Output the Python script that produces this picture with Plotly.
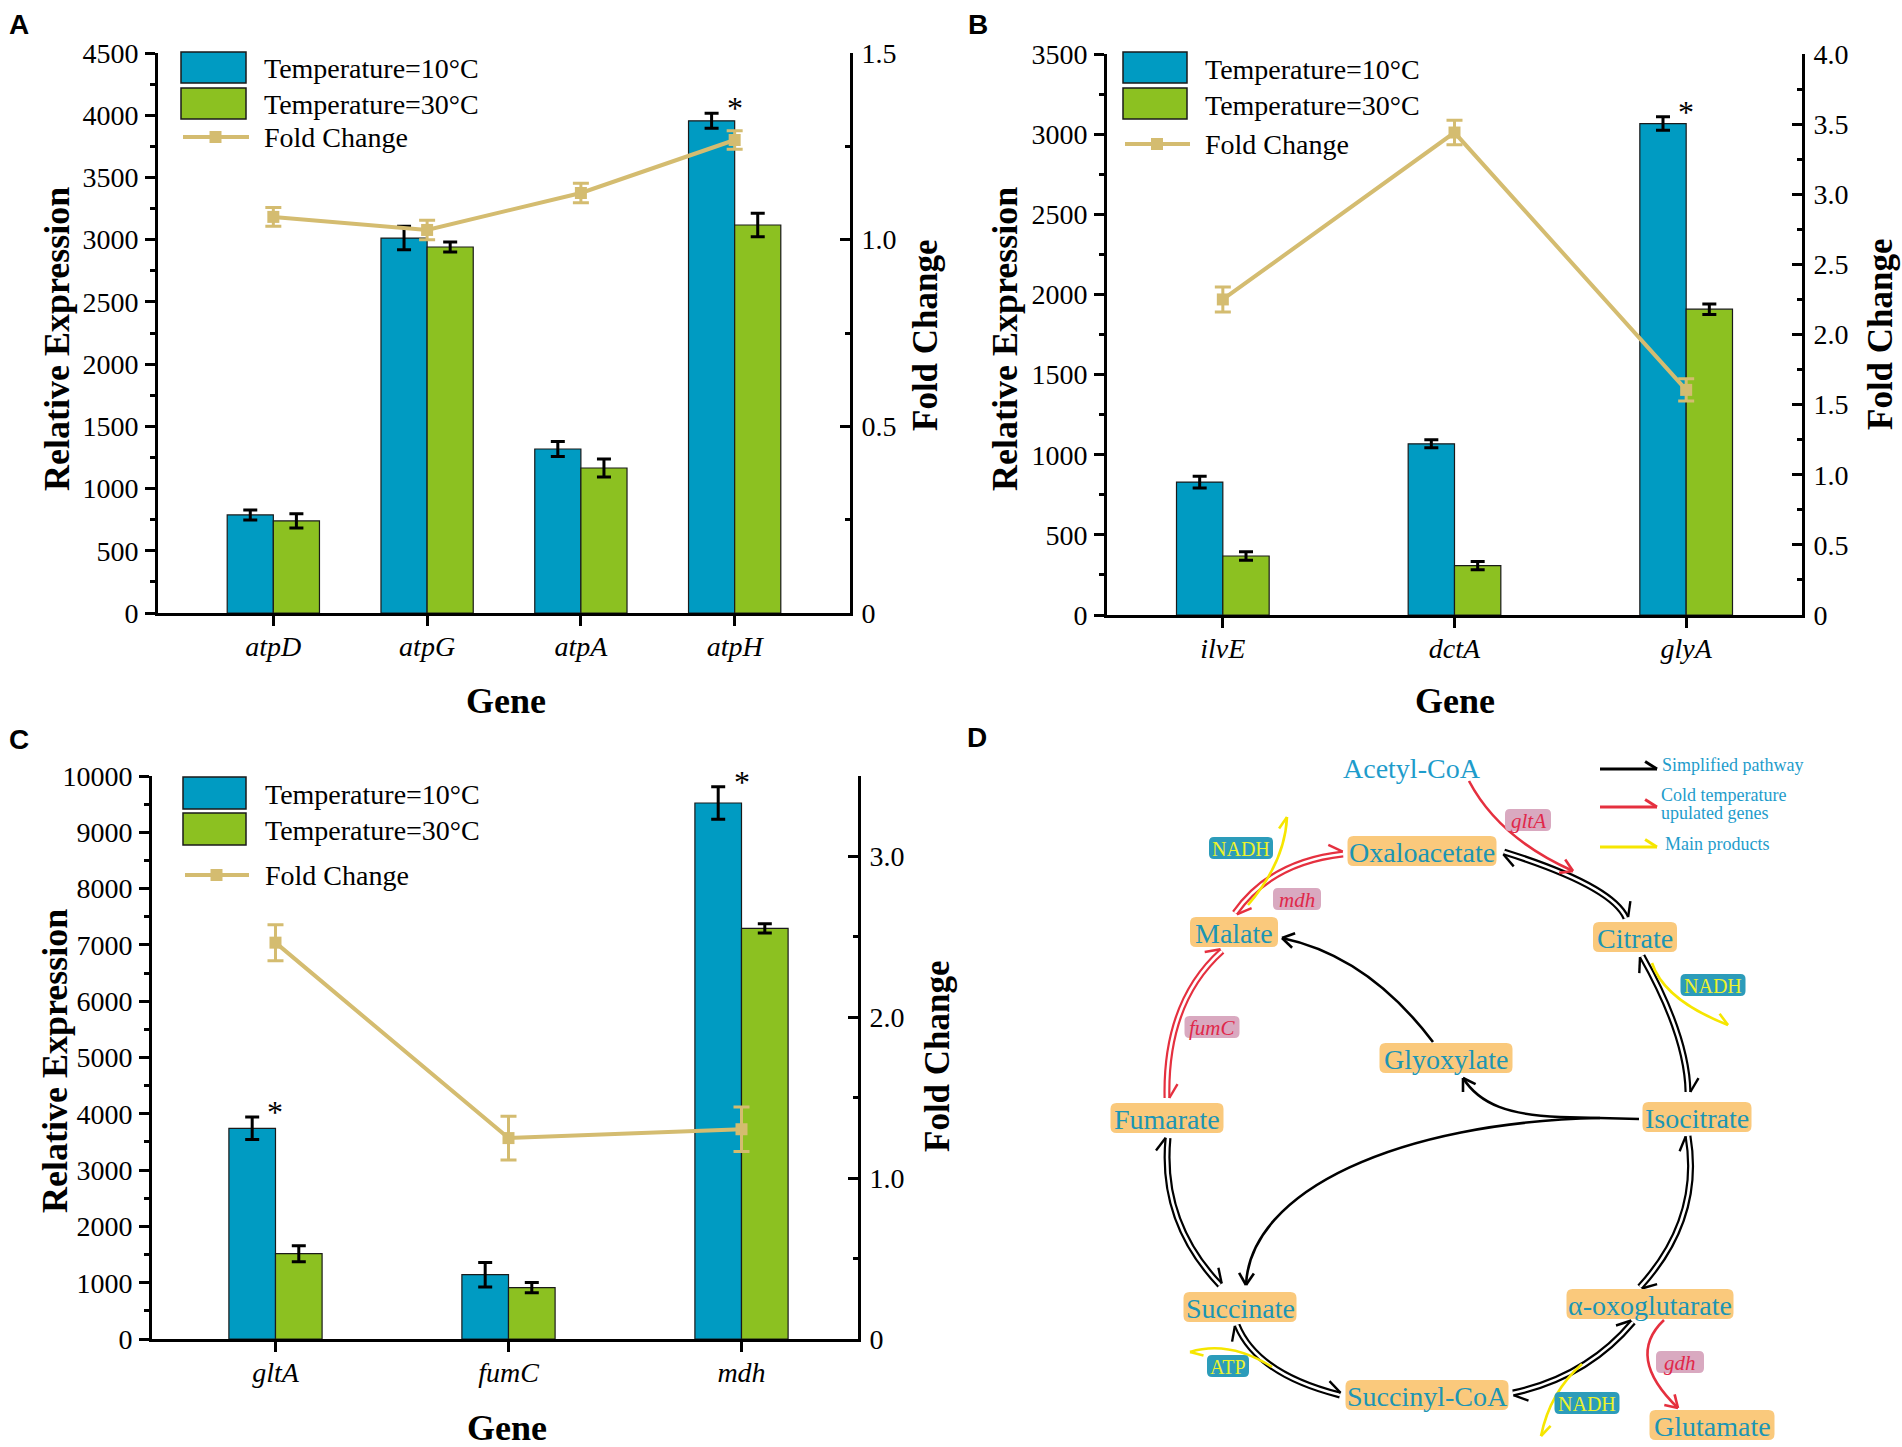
import math
import plotly.graph_objects as go

# ------------------------------------------------------------------ data
series_names = ["Temperature=10°C", "Temperature=30°C", "Fold Change"]

genes_a = ["atpD", "atpG", "atpA", "atpH"]
a_10c = [788, 3013, 1318, 3955]
a_10c_err = [40, 94, 60, 60]
a_30c = [740, 2941, 1165, 3118]
a_30c_err = [57, 40, 72, 95]
a_fold = [1.061, 1.026, 1.125, 1.267]
a_fold_err = [0.025, 0.026, 0.026, 0.025]
a_sig = ["atpH"]
a_left_ticks = [0, 500, 1000, 1500, 2000, 2500, 3000, 3500, 4000, 4500]
a_left_labels = ["0", "500", "1000", "1500", "2000", "2500", "3000", "3500", "4000", "4500"]
a_right_ticks = [0, 0.5, 1.0, 1.5]
a_right_labels = ["0", "0.5", "1.0", "1.5"]

genes_b = ["ilvE", "dctA", "glyA"]
b_10c = [829, 1068, 3066]
b_10c_err = [37, 25, 42]
b_30c = [368, 308, 1908]
b_30c_err = [27, 25, 33]
b_fold = [2.25, 3.44, 1.605]
b_fold_err = [0.089, 0.087, 0.079]
b_sig = ["glyA"]
b_left_ticks = [0, 500, 1000, 1500, 2000, 2500, 3000, 3500]
b_left_labels = ["0", "500", "1000", "1500", "2000", "2500", "3000", "3500"]
b_right_ticks = [0, 0.5, 1.0, 1.5, 2.0, 2.5, 3.0, 3.5, 4.0]
b_right_labels = ["0", "0.5", "1.0", "1.5", "2.0", "2.5", "3.0", "3.5", "4.0"]

genes_c = ["gltA", "fumC", "mdh"]
c_10c = [3742, 1142, 9520]
c_10c_err = [199, 219, 290]
c_30c = [1515, 911, 7293]
c_30c_err = [141, 91, 83]
c_fold = [2.464, 1.249, 1.304]
c_fold_err = [0.112, 0.136, 0.138]
c_sig = ["gltA", "mdh"]
c_left_ticks = [0, 1000, 2000, 3000, 4000, 5000, 6000, 7000, 8000, 9000, 10000]
c_left_labels = ["0", "1000", "2000", "3000", "4000", "5000", "6000", "7000", "8000", "9000", "10000"]
c_right_ticks = [0, 1.0, 2.0, 3.0]
c_right_labels = ["0", "1.0", "2.0", "3.0"]

# pathway diagram (panel D) content
metabolites = ["Oxaloacetate", "Citrate", "Malate", "Glyoxylate", "Fumarate",
               "Isocitrate", "Succinate", "α-oxoglutarate", "Succinyl-CoA", "Glutamate"]
gene_tags = ["mdh", "fumC", "gltA", "gdh"]
product_tags = ["NADH", "NADH", "ATP", "NADH"]
legend_d = ["Simplified pathway", "Cold temperature", "upulated genes", "Main products"]

# ------------------------------------------------------------------ style
SERIF = "Liberation Serif"
SANS = "Liberation Sans"
BLUE = "#009BC2"
GREEN = "#8CC121"
TAN = "#D4BC70"
W, H = 1902, 1447
NODE_FILL = "#FAC97C"
NODE_TEXT = "#1C95B4"
LEG_TEXT = "#1E9CCB"
PINK_FILL = "#D9A9C0"
PINK_TEXT = "#E0284A"
TEAL_FILL = "#2C9CBA"
TEAL_TEXT = "#EDF22C"
RED = "#E5303F"
YEL = "#F6E600"

fig = go.Figure()
shapes = []
annos = []


def add_path(d, color, width, fill=None):
    shapes.append(dict(type="path", path=d, xref="x4", yref="y7",
                       line=dict(color=color, width=width),
                       fillcolor=fill if fill else "rgba(0,0,0,0)", layer="above"))


def add_text(x, y, text, size, color, family=SERIF, xanchor="center", **kw):
    annos.append(dict(x=x, y=y, xref="x4", yref="y7", text=text, showarrow=False,
                      xanchor=xanchor, yanchor="middle",
                      font=dict(family=family, size=size, color=color), **kw))


def rrect(x0, y0, x1, y1, r, fill):
    d = (f"M {x0+r},{y0} L {x1-r},{y0} Q {x1},{y0} {x1},{y0+r} L {x1},{y1-r} "
         f"Q {x1},{y1} {x1-r},{y1} L {x0+r},{y1} Q {x0},{y1} {x0},{y1-r} "
         f"L {x0},{y0+r} Q {x0},{y0} {x0+r},{y0} Z")
    shapes.append(dict(type="path", path=d, xref="x4", yref="y7",
                       line=dict(width=0), fillcolor=fill, layer="above"))


def unit(dx, dy):
    n = math.hypot(dx, dy)
    return dx / n, dy / n


def barb(tip, d, side, L=14, ang=32):
    a = math.radians(ang)
    nl = (d[1], -d[0])
    ex = tip[0] - L * math.cos(a) * d[0] + side * L * math.sin(a) * nl[0]
    ey = tip[1] - L * math.cos(a) * d[1] + side * L * math.sin(a) * nl[1]
    return f"M {ex:.1f},{ey:.1f} L {tip[0]:.1f},{tip[1]:.1f}"


def qpath(p0, c, p2):
    return f"M {p0[0]},{p0[1]} Q {c[0]},{c[1]} {p2[0]},{p2[1]}"


def double_arrow(p0, c, p2, color):
    d = qpath(p0, c, p2)
    add_path(d, color, 7)
    add_path(d, "white", 2.6)
    for tip, frm in ((p2, c), (p0, c)):
        u = unit(tip[0] - frm[0], tip[1] - frm[1])
        nl = (u[1], -u[0])
        t = (tip[0] + 2.3 * nl[0], tip[1] + 2.3 * nl[1])
        add_path(barb(t, u, 1, L=16), color, 2.4)


def single_arrow(d, tip, frm, color, width=2.6, sides=(1, -1), L=14):
    add_path(d, color, width)
    u = unit(tip[0] - frm[0], tip[1] - frm[1])
    for s in sides:
        add_path(barb(tip, u, s, L=L), color, width)


# ------------------------------------------------------------------ bar panels
panels = [
    dict(genes=genes_a, v10=a_10c, e10=a_10c_err, v30=a_30c, e30=a_30c_err,
         fold=a_fold, ferr=a_fold_err, sig=a_sig,
         xa="x", ya="y", ya2="y2", bw=0.3, xdom=(158, 850), ydom=(53, 613),
         xr=(-0.75, 3.75), ymax=4500, y2max=1.5,
         lt=a_left_ticks, ltl=a_left_labels, lmin=250,
         rt=a_right_ticks, rtl=a_right_labels, rmin=0.25,
         leg=dict(rx=(181, 246), b=(52, 83), g=(88, 119), f=137, tx=262, ty=(68, 104, 137)),
         titles=dict(rel=(57, 339), fold=(925, 335), gene=(506, 701)),
         letter=("A", 19, 24)),
    dict(genes=genes_b, v10=b_10c, e10=b_10c_err, v30=b_30c, e30=b_30c_err,
         fold=b_fold, ferr=b_fold_err, sig=b_sig,
         xa="x2", ya="y3", ya2="y4", bw=0.2, xdom=(1107, 1802), ydom=(54, 615),
         xr=(-0.5, 2.5), ymax=3500, y2max=4.0,
         lt=b_left_ticks, ltl=b_left_labels, lmin=250,
         rt=b_right_ticks, rtl=b_right_labels, rmin=0.25,
         leg=dict(rx=(1123, 1187), b=(52, 83), g=(88, 119), f=144, tx=1203, ty=(69, 105, 144)),
         titles=dict(rel=(1005, 339), fold=(1880, 334), gene=(1455, 701)),
         letter=("B", 978, 24)),
    dict(genes=genes_c, v10=c_10c, e10=c_10c_err, v30=c_30c, e30=c_30c_err,
         fold=c_fold, ferr=c_fold_err, sig=c_sig,
         xa="x3", ya="y5", ya2="y6", bw=0.2, xdom=(152, 858), ydom=(776, 1339),
         xr=(-0.53, 2.5), ymax=10000, y2max=3.5,
         lt=c_left_ticks, ltl=c_left_labels, lmin=500,
         rt=c_right_ticks, rtl=c_right_labels, rmin=0.5,
         leg=dict(rx=(183, 246), b=(777, 809), g=(813, 845), f=875, tx=263, ty=(794, 830, 875)),
         titles=dict(rel=(55, 1061), fold=(937, 1056), gene=(507, 1428)),
         letter=("C", 19, 739)),
]


def axkey(a):
    return ("xaxis" if a[0] == "x" else "yaxis") + a[1:]


layout_axes = {}


def tfont():
    return dict(family=SERIF, size=28, color="black")


for p in panels:
    g = p["genes"]
    bw = p["bw"]
    fig.add_trace(go.Bar(
        x=g, y=p["v10"], name=series_names[0], width=bw, offset=-bw,
        marker=dict(color=BLUE, line=dict(color="#1a1a1a", width=1.2)),
        error_y=dict(type="data", array=p["e10"], color="black", thickness=3, width=7),
        xaxis=p["xa"], yaxis=p["ya"], showlegend=False))
    fig.add_trace(go.Bar(
        x=g, y=p["v30"], name=series_names[1], width=bw, offset=0,
        marker=dict(color=GREEN, line=dict(color="#1a1a1a", width=1.2)),
        error_y=dict(type="data", array=p["e30"], color="black", thickness=3, width=7),
        xaxis=p["xa"], yaxis=p["ya"], showlegend=False))
    fig.add_trace(go.Scatter(
        x=g, y=p["fold"], name=series_names[2], mode="lines+markers",
        line=dict(color=TAN, width=4), marker=dict(symbol="square", size=12, color=TAN),
        error_y=dict(type="data", array=p["ferr"], color=TAN, thickness=3, width=8),
        xaxis=p["xa"], yaxis=p["ya2"], showlegend=False))

    x0, x1 = p["xdom"]
    y0, y1 = p["ydom"]
    layout_axes[axkey(p["xa"])] = dict(
        domain=[x0 / W, x1 / W], anchor=p["ya"], type="category", automargin=False,
        categoryorder="array", categoryarray=g, range=list(p["xr"]), autorange=False,
        showline=True, linewidth=3, linecolor="black",
        ticks="outside", ticklen=10, tickwidth=3, tickcolor="black",
        tickmode="array", tickvals=g, ticktext=[f"<i>{v}</i>" for v in g],
        tickfont=tfont(), showgrid=False, zeroline=False, ticklabelstandoff=-4)
    lminor = [v + p["lmin"] for v in p["lt"][:-1]]
    layout_axes[axkey(p["ya"])] = dict(
        domain=[1 - y1 / H, 1 - y0 / H], anchor=p["xa"], range=[0, p["ymax"]], autorange=False,
        automargin=False,
        showline=True, linewidth=3, linecolor="black",
        ticks="outside", ticklen=10, tickwidth=3, tickcolor="black",
        tickmode="array", tickvals=p["lt"], ticktext=p["ltl"],
        minor=dict(tickmode="array", tickvals=lminor, ticks="outside", ticklen=5,
                   tickwidth=2.5, tickcolor="black"),
        tickfont=tfont(), showgrid=False, zeroline=False, ticklabelstandoff=1)
    rminor = [round(v + p["rmin"], 4) for v in p["rt"]]
    rminor = [v for v in rminor if v <= p["y2max"] + 1e-9]
    layout_axes[axkey(p["ya2"])] = dict(
        overlaying=p["ya"], side="right", anchor=p["xa"], range=[0, p["y2max"]], autorange=False,
        automargin=False,
        showline=True, linewidth=3, linecolor="black",
        ticks="inside", ticklen=10, tickwidth=3, tickcolor="black",
        tickmode="array", tickvals=p["rt"], ticktext=p["rtl"],
        minor=dict(tickmode="array", tickvals=rminor, ticks="inside", ticklen=5,
                   tickwidth=2.5, tickcolor="black"),
        tickfont=tfont(), showgrid=False, zeroline=False, ticklabelstandoff=3)

    # significance stars (above blue error bar, at category centre)
    for gname in p["sig"]:
        i = g.index(gname)
        annos.append(dict(x=gname, y=p["v10"][i] + p["e10"][i], xref=p["xa"], yref=p["ya"],
                          text="*", showarrow=False, yanchor="middle", yshift=5,
                          font=dict(family=SERIF, size=32, color="black")))

    # hand-drawn legend
    L = p["leg"]
    rx0, rx1 = L["rx"]
    rrect_fill = [(L["b"], BLUE), (L["g"], GREEN)]
    for (ya_, yb_), col in rrect_fill:
        shapes.append(dict(type="rect", x0=rx0, x1=rx1, y0=ya_, y1=yb_, xref="x4", yref="y7",
                           fillcolor=col, line=dict(color="#1a1a1a", width=1.5), layer="above"))
    shapes.append(dict(type="line", x0=rx0 + 2, x1=rx1 + 3, y0=L["f"], y1=L["f"], xref="x4", yref="y7",
                       line=dict(color=TAN, width=4), layer="above"))
    cx = (rx0 + rx1) / 2 + 2
    shapes.append(dict(type="rect", x0=cx - 6, x1=cx + 6, y0=L["f"] - 6, y1=L["f"] + 6,
                       xref="x4", yref="y7", fillcolor=TAN, line=dict(width=0), layer="above"))
    for name, ty in zip(series_names, L["ty"]):
        add_text(L["tx"], ty, name, 28, "black", xanchor="left")

    T = p["titles"]
    add_text(T["rel"][0], T["rel"][1], "<b>Relative Expression</b>", 36, "black", textangle=-90)
    add_text(T["fold"][0], T["fold"][1], "<b>Fold Change</b>", 35, "black", textangle=-90)
    add_text(T["gene"][0], T["gene"][1], "<b>Gene</b>", 36, "black")
    lt_, lx, ly = p["letter"]
    add_text(lx, ly, f"<b>{lt_}</b>", 28, "black", family=SANS)

add_text(977, 737, "<b>D</b>", 28, "black", family=SANS)

# ------------------------------------------------------------------ panel D drawing
# legend
legend_rows = [("black", 769), (RED, 807), (YEL, 847)]
for col, yy in legend_rows:
    single_arrow(f"M 1600,{yy} L 1657,{yy}", (1657, yy), (1600, yy), col, width=3, sides=(1,), L=14)
add_text(1660, 765, legend_d[0], 18, LEG_TEXT, xanchor="left")
add_text(1659, 795, legend_d[1], 18, LEG_TEXT, xanchor="left")
add_text(1659, 813, legend_d[2], 18, LEG_TEXT, xanchor="left")
add_text(1663, 844, legend_d[3], 18, LEG_TEXT, xanchor="left")

# black reversible steps of the cycle
double_arrow((1504, 852), (1612, 886), (1626, 918), "black")      # OAA <-> Citrate
double_arrow((1642, 956), (1687, 1036), (1688, 1092), "black")    # Citrate <-> Isocitrate
double_arrow((1688, 1136), (1702, 1219), (1640, 1287), "black")   # Isocitrate <-> aKG
double_arrow((1633, 1322), (1587, 1377), (1513, 1393), "black")   # aKG <-> Succinyl-CoA
double_arrow((1340, 1395), (1257, 1374), (1237, 1325), "black")   # Succinyl-CoA <-> Succinate
double_arrow((1220, 1285), (1160, 1222), (1168, 1138), "black")   # Succinate <-> Fumarate
# red (cold up-regulated) steps
double_arrow((1167, 1098), (1165, 1002), (1222, 951), RED)        # Fumarate <-> Malate
double_arrow((1235, 913), (1271, 862), (1343, 854), RED)          # Malate <-> OAA

# glyoxylate shunt
single_arrow("M 1639,1119 L 1560,1117 C 1510,1115 1480,1105 1463,1078",
             (1463, 1078), (1480, 1105), "black")
single_arrow("M 1600,1118 C 1400,1122 1250,1190 1246,1285",
             (1246, 1285), (1250, 1190), "black")
single_arrow(qpath((1433, 1042), (1368, 956), (1282, 938)), (1282, 938), (1368, 956), "black")
# gltA and gdh
single_arrow(qpath((1469, 781), (1499, 838), (1573, 871)), (1573, 871), (1499, 838), RED)
single_arrow(qpath((1664, 1320), (1625, 1357), (1678, 1408)), (1678, 1408), (1625, 1357), RED)
# products (yellow)
single_arrow(qpath((1248, 905), (1285, 862), (1287, 817)), (1287, 817), (1285, 862), YEL, width=2.6, sides=(1,))
single_arrow(qpath((1652, 963), (1664, 1000), (1728, 1025)), (1728, 1025), (1664, 1000), YEL, width=2.6, sides=(1,))
single_arrow(qpath((1272, 1367), (1229, 1340), (1190, 1352)), (1190, 1352), (1229, 1340), YEL, width=2.6, sides=(1,))
single_arrow(qpath((1582, 1364), (1550, 1392), (1541, 1436)), (1541, 1436), (1550, 1392), YEL, width=2.6, sides=(1,))

# metabolite boxes (centre x, centre y, width)
node_geom = [(1422, 851, 149), (1635, 937, 84), (1234, 932, 88), (1446, 1058, 133),
             (1167, 1118, 113), (1697, 1117, 109), (1240, 1307, 113), (1650, 1304, 167),
             (1427, 1395, 163), (1712, 1425, 125)]
for name, (cx, cy, w) in zip(metabolites, node_geom):
    rrect(cx - w / 2, cy - 15, cx + w / 2, cy + 15, 6, NODE_FILL)
    add_text(cx, cy + 1, name, 28, NODE_TEXT)

add_text(1412, 768, "Acetyl-CoA", 28, LEG_TEXT)

# gene tags (pink) and product tags (teal)
gene_geom = [(1297, 899, 48), (1212, 1027, 55), (1528, 820, 46), (1680, 1362, 48)]
for name, (cx, cy, w) in zip(gene_tags, gene_geom):
    rrect(cx - w / 2, cy - 11, cx + w / 2, cy + 11, 5, PINK_FILL)
    add_text(cx, cy + 1, f"<i>{name}</i>", 21, PINK_TEXT)

prod_geom = [(1241, 848, 64), (1713, 985, 65), (1228, 1366, 42), (1587, 1403, 65)]
for name, (cx, cy, w) in zip(product_tags, prod_geom):
    rrect(cx - w / 2, cy - 11, cx + w / 2, cy + 11, 5, TEAL_FILL)
    add_text(cx, cy + 1, name, 20, TEAL_TEXT)

# invisible pixel-space overlay used for the diagram and hand-drawn pieces
fig.add_trace(go.Scatter(x=[0, W], y=[0, H], mode="markers", marker=dict(opacity=0),
                         xaxis="x4", yaxis="y7", showlegend=False, hoverinfo="skip"))
layout_axes["xaxis4"] = dict(domain=[0, 1], range=[0, W], autorange=False, visible=False,
                             anchor="y7", fixedrange=True, automargin=False)
layout_axes["yaxis7"] = dict(domain=[0, 1], range=[H, 0], autorange=False, visible=False,
                             anchor="x4", fixedrange=True, automargin=False)

fig.update_layout(
    width=W, height=H, margin=dict(l=0, r=0, t=0, b=0, pad=0, autoexpand=False),
    paper_bgcolor="white", plot_bgcolor="rgba(0,0,0,0)",
    barmode="overlay", showlegend=False,
    font=dict(family=SERIF, color="black"),
    shapes=shapes, annotations=annos,
    **layout_axes)

fig.write_html("out.html", config={"displayModeBar": False},
               post_script="document.body.style.margin='0';document.body.style.overflow='hidden';")
